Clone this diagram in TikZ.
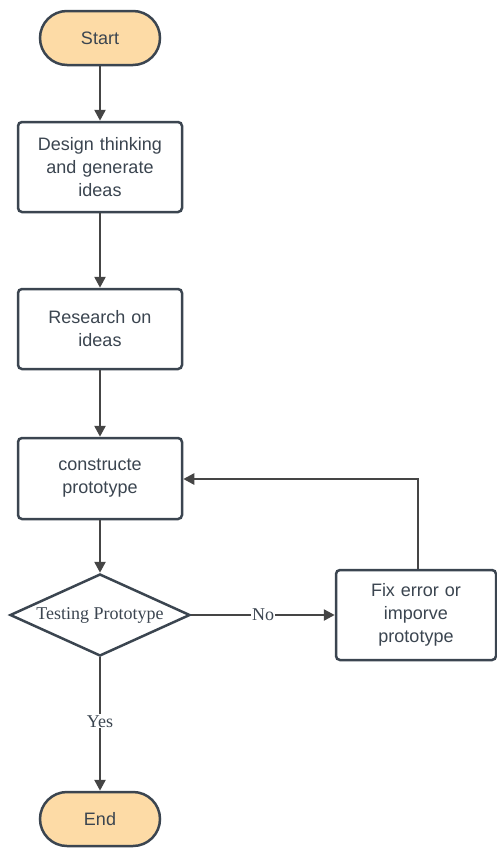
\documentclass[tikz,border=0pt]{standalone}
\usepackage{fontspec}
\setmainfont{Liberation Sans}
\newfontfamily\serifl{Liberation Serif}
\usetikzlibrary{shapes.geometric,arrows.meta}
\definecolor{bord}{HTML}{3B4550}
\definecolor{arr}{HTML}{454545}
\definecolor{termfill}{HTML}{FDDBA6}
\begin{document}
\begin{tikzpicture}[x=1pt,y=1pt,
  term/.style={draw=bord,line width=2.5pt,fill=termfill,rounded corners=27pt,minimum width=120pt,minimum height=54pt,font=\fontsize{18}{22}\selectfont,text=bord},
  proc/.style={draw=bord,line width=2.5pt,fill=white,rounded corners=4pt,minimum width=164pt,text width=155pt,align=center,font=\fontsize{18}{23}\selectfont,text=bord},
  dec/.style={draw=bord,line width=2.5pt,diamond,aspect=2.2,minimum width=180pt,minimum height=82pt,inner sep=0pt,font=\serifl\fontsize{18}{22}\selectfont,text=bord},
  conn/.style={draw=arr,line width=2.5pt,-{Triangle[length=11pt,width=11pt]}},
  lab/.style={fill=white,inner sep=1pt,font=\serifl\fontsize{18}{22}\selectfont,text=bord}]
\useasboundingbox (0,0) rectangle (497,-849);
\node[term] (start) at (100,-38) {Start};
\node[proc,minimum height=90pt] (design) at (100,-167) {Design thinking\\and generate\\ideas};
\node[proc,minimum height=80pt] (research) at (100,-329) {Research on\\ideas};
\node[proc,minimum height=81pt] (construct) at (100,-478.5) {constructe\\prototype};
\node[dec] (test) at (100,-615) {Testing Prototype};
\node[proc,minimum width=160pt,text width=145pt,minimum height=90pt] (fix) at (416,-615) {Fix error or\\imporve\\prototype};
\node[term] (end) at (100,-819) {End};
\draw[conn] (start) -- (design);
\draw[conn] (design) -- (research);
\draw[conn] (research) -- (construct);
\draw[conn] (construct) -- (test);
\draw[conn] (test) -- node[lab] {No} (fix);
\draw[conn] (test) -- node[lab,pos=0.48] {Yes} (end);
\coordinate (corner) at (418,-479);
\draw[conn] (fix.north -| corner) -- (corner) -- (construct.east |- corner);
\end{tikzpicture}
\end{document}
